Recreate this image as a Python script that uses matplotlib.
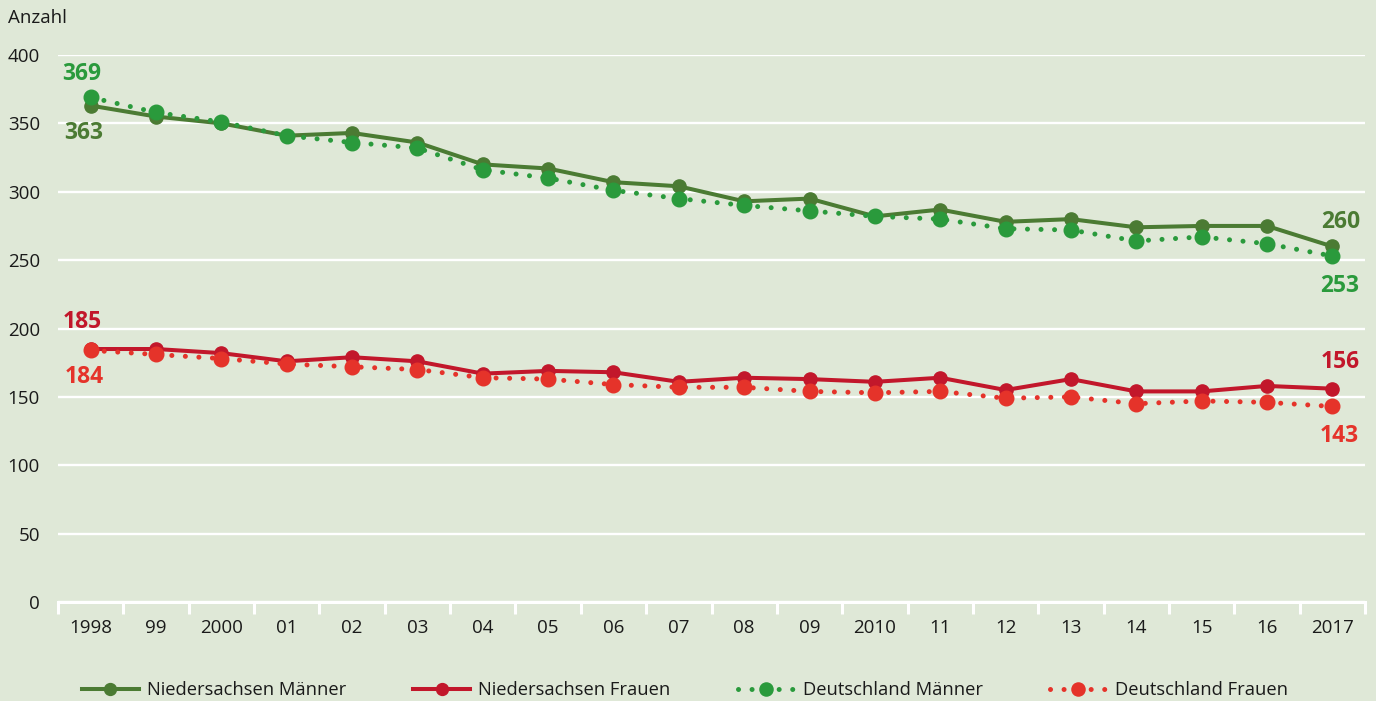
import matplotlib
matplotlib.use("Agg")
import matplotlib.pyplot as plt
import numpy as np

plt.rcParams['font.family'] = ['Open Sans', 'DejaVu Sans']

jahre = ['1998', '99', '2000', '01', '02', '03', '04', '05', '06', '07',
         '08', '09', '2010', '11', '12', '13', '14', '15', '16', '2017']

ns_maenner = [363, 355, 350, 341, 343, 336, 320, 317, 307, 304,
              293, 295, 282, 287, 278, 280, 274, 275, 275, 260]
ns_frauen = [185, 185, 182, 176, 179, 176, 167, 169, 168, 161,
             164, 163, 161, 164, 155, 163, 154, 154, 158, 156]
de_maenner = [369, 358, 351, 341, 336, 332, 316, 310, 301, 295,
              290, 286, 282, 280, 273, 272, 264, 267, 262, 253]
de_frauen = [184, 181, 178, 174, 172, 170, 164, 163, 159, 157,
             157, 154, 153, 154, 149, 150, 145, 147, 146, 143]

bg = '#dfe8d7'
c_nsm = '#4b7b33'
c_nsf = '#c2172b'
c_dem = '#2a9a3c'
c_def = '#e5332a'
txt = '#1a1a1a'

fig = plt.figure(figsize=(13.76, 7.01), dpi=100, facecolor=bg)
ax = fig.add_axes([58 / 1376, 1 - 602 / 701, 1307 / 1376, 547 / 701])
ax.set_facecolor(bg)

x = np.arange(len(jahre))

dots = (0, (0.01, 2.7))
ax.plot(x, ns_maenner, color=c_nsm, lw=2.9, marker='o', ms=9.5,
        label='Niedersachsen Männer', zorder=3)
ax.plot(x, ns_frauen, color=c_nsf, lw=2.9, marker='o', ms=9.5,
        label='Niedersachsen Frauen', zorder=3)
ax.plot(x, de_maenner, color=c_dem, lw=3.6, ls=dots, dash_capstyle='round',
        marker='o', ms=10.5, label='Deutschland Männer', zorder=4)
ax.plot(x, de_frauen, color=c_def, lw=3.6, ls=dots, dash_capstyle='round',
        marker='o', ms=10.5, label='Deutschland Frauen', zorder=4)

# Start- und Endwerte beschriften
labels = [
    (0, de_maenner[0], c_dem, (-9, 23)),
    (0, ns_maenner[0], c_nsm, (-7, -27)),
    (0, ns_frauen[0], c_nsf, (-8, 27)),
    (0, de_frauen[0], c_def, (-6, -27)),
    (19, ns_maenner[19], c_nsm, (8, 24)),
    (19, de_maenner[19], c_dem, (7, -30)),
    (19, ns_frauen[19], c_nsf, (8, 27)),
    (19, de_frauen[19], c_def, (7, -30)),
]
for xi, val, col, off in labels:
    ax.annotate(str(val), (xi, val), xytext=off, textcoords='offset pixels',
                ha='center', va='center', color=col, fontsize=16.5,
                fontweight='bold', zorder=5)

ax.set_xlim(-0.5, len(jahre) - 0.5)
ax.set_ylim(0, 400)

for s in ax.spines.values():
    s.set_visible(False)
ax.axhline(0, color='white', lw=2.2, zorder=1, clip_on=False)

ax.set_yticks(np.arange(0, 401, 50))
ax.yaxis.grid(True, color='white', lw=1.7, zorder=0)
ax.set_axisbelow(True)
ax.tick_params(axis='y', length=0, pad=13, labelsize=13.5, labelcolor=txt)

# Striche an den Grenzen, Beschriftung in der Mitte
ax.set_xticks(np.arange(-0.5, len(jahre), 1))
ax.set_xticklabels([])
ax.set_xticks(x, minor=True)
ax.set_xticklabels(jahre, minor=True)
ax.tick_params(axis='x', which='major', length=8.5, width=2.2, color='white',
               direction='out')
ax.tick_params(axis='x', which='minor', length=0, pad=12.5, labelsize=13.5,
               labelcolor=txt)

fig.text(8 / 1376, 1 - 18 / 701, 'Anzahl', ha='left', va='center',
         fontsize=13.5, color=txt)

fig.legend(loc='center left', bbox_to_anchor=(82 / 1376, 1 - 690 / 701),
           ncol=4, frameon=False, fontsize=13.2, handlelength=3.1,
           handletextpad=0.45, columnspacing=3.65, borderpad=0,
           borderaxespad=0, labelcolor=txt, markerscale=0.9)

fig.savefig('out.png', dpi=100, facecolor=bg)
